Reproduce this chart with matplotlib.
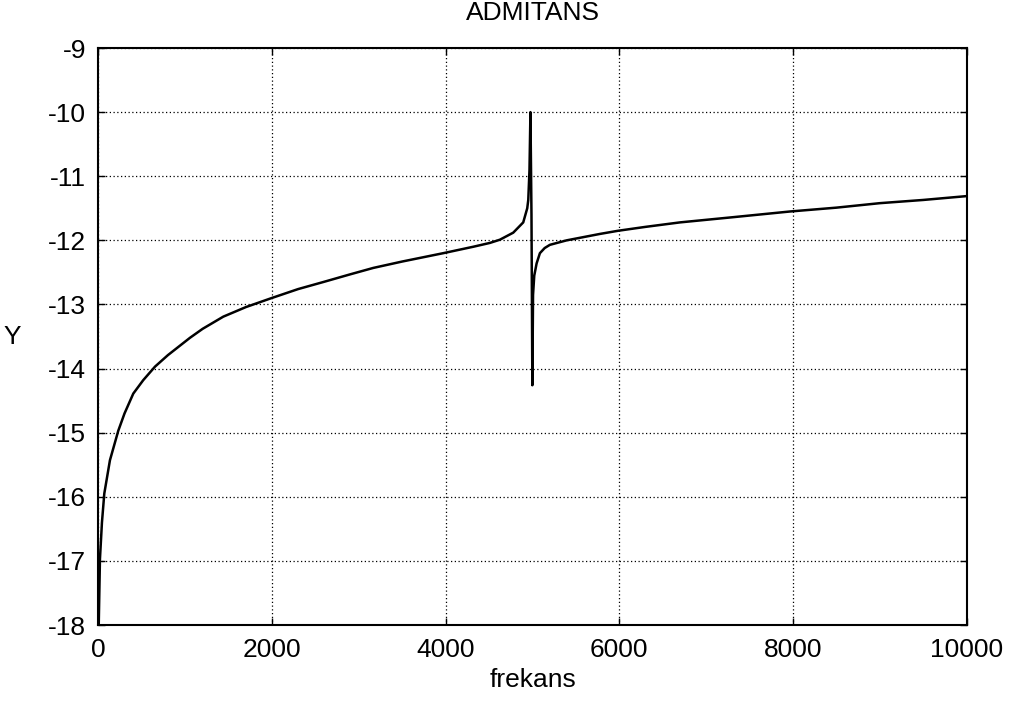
import matplotlib
matplotlib.use("Agg")
import matplotlib.pyplot as plt

plt.rcParams['font.family'] = ['Liberation Sans', 'DejaVu Sans']

# Admittance curve versus frequency
frekans = [3, 17, 40, 67, 132, 228, 300, 401, 516, 651, 800, 1054, 1200,
           1438, 1700, 1995, 2300, 2590, 2900, 3166, 3500, 3972, 4317, 4509,
           4624, 4778, 4893, 4939, 4951, 4965, 4976, 4988, 4998, 5006, 5020,
           5047, 5085, 5140, 5200, 5393, 5776, 5988, 6300, 6698, 7300, 7965,
           8500, 9001, 9500, 10000]
admitans = [-18.0, -16.97, -16.4, -15.95, -15.43, -14.97, -14.70, -14.39,
            -14.18, -13.97, -13.79, -13.52, -13.38, -13.19, -13.04, -12.90,
            -12.76, -12.65, -12.53, -12.43, -12.33, -12.20, -12.10, -12.04,
            -11.99, -11.88, -11.72, -11.50, -11.37, -10.9, -10.0, -11.6,
            -14.26, -12.85, -12.55, -12.36, -12.20, -12.12, -12.07, -12.00,
            -11.90, -11.85, -11.79, -11.72, -11.64, -11.55, -11.49, -11.42,
            -11.37, -11.31]

x_ticks = [0, 2000, 4000, 6000, 8000, 10000]
y_ticks = [-18, -17, -16, -15, -14, -13, -12, -11, -10, -9]

fig = plt.figure(figsize=(10.10, 7.01), dpi=100)
ax = fig.add_axes([0.0975, 0.1084, 0.8595, 0.8231])

ax.plot(frekans, admitans, color='black', linewidth=1.8)

ax.set_xlim(0, 10000)
ax.set_ylim(-18, -9)
ax.set_xticks(x_ticks)
ax.set_yticks(y_ticks)
ax.set_xticklabels([str(v) for v in x_ticks])
ax.set_yticklabels([str(v) for v in y_ticks])

ax.grid(True, color='black', linestyle=(0, (1, 2)), linewidth=0.9)
ax.tick_params(direction='in', length=5, width=1, labelsize=19, pad=9,
               top=True, right=True)
for s in ax.spines.values():
    s.set_linewidth(1.5)
    s.set_color('black')

ax.set_title('ADMITANS', fontsize=19, pad=20)
ax.set_xlabel('frekans', fontsize=19, labelpad=5)
ax.set_ylabel('Y', fontsize=19, rotation=0, labelpad=26, va='center')

fig.savefig('out.png', dpi=100, facecolor='white')
